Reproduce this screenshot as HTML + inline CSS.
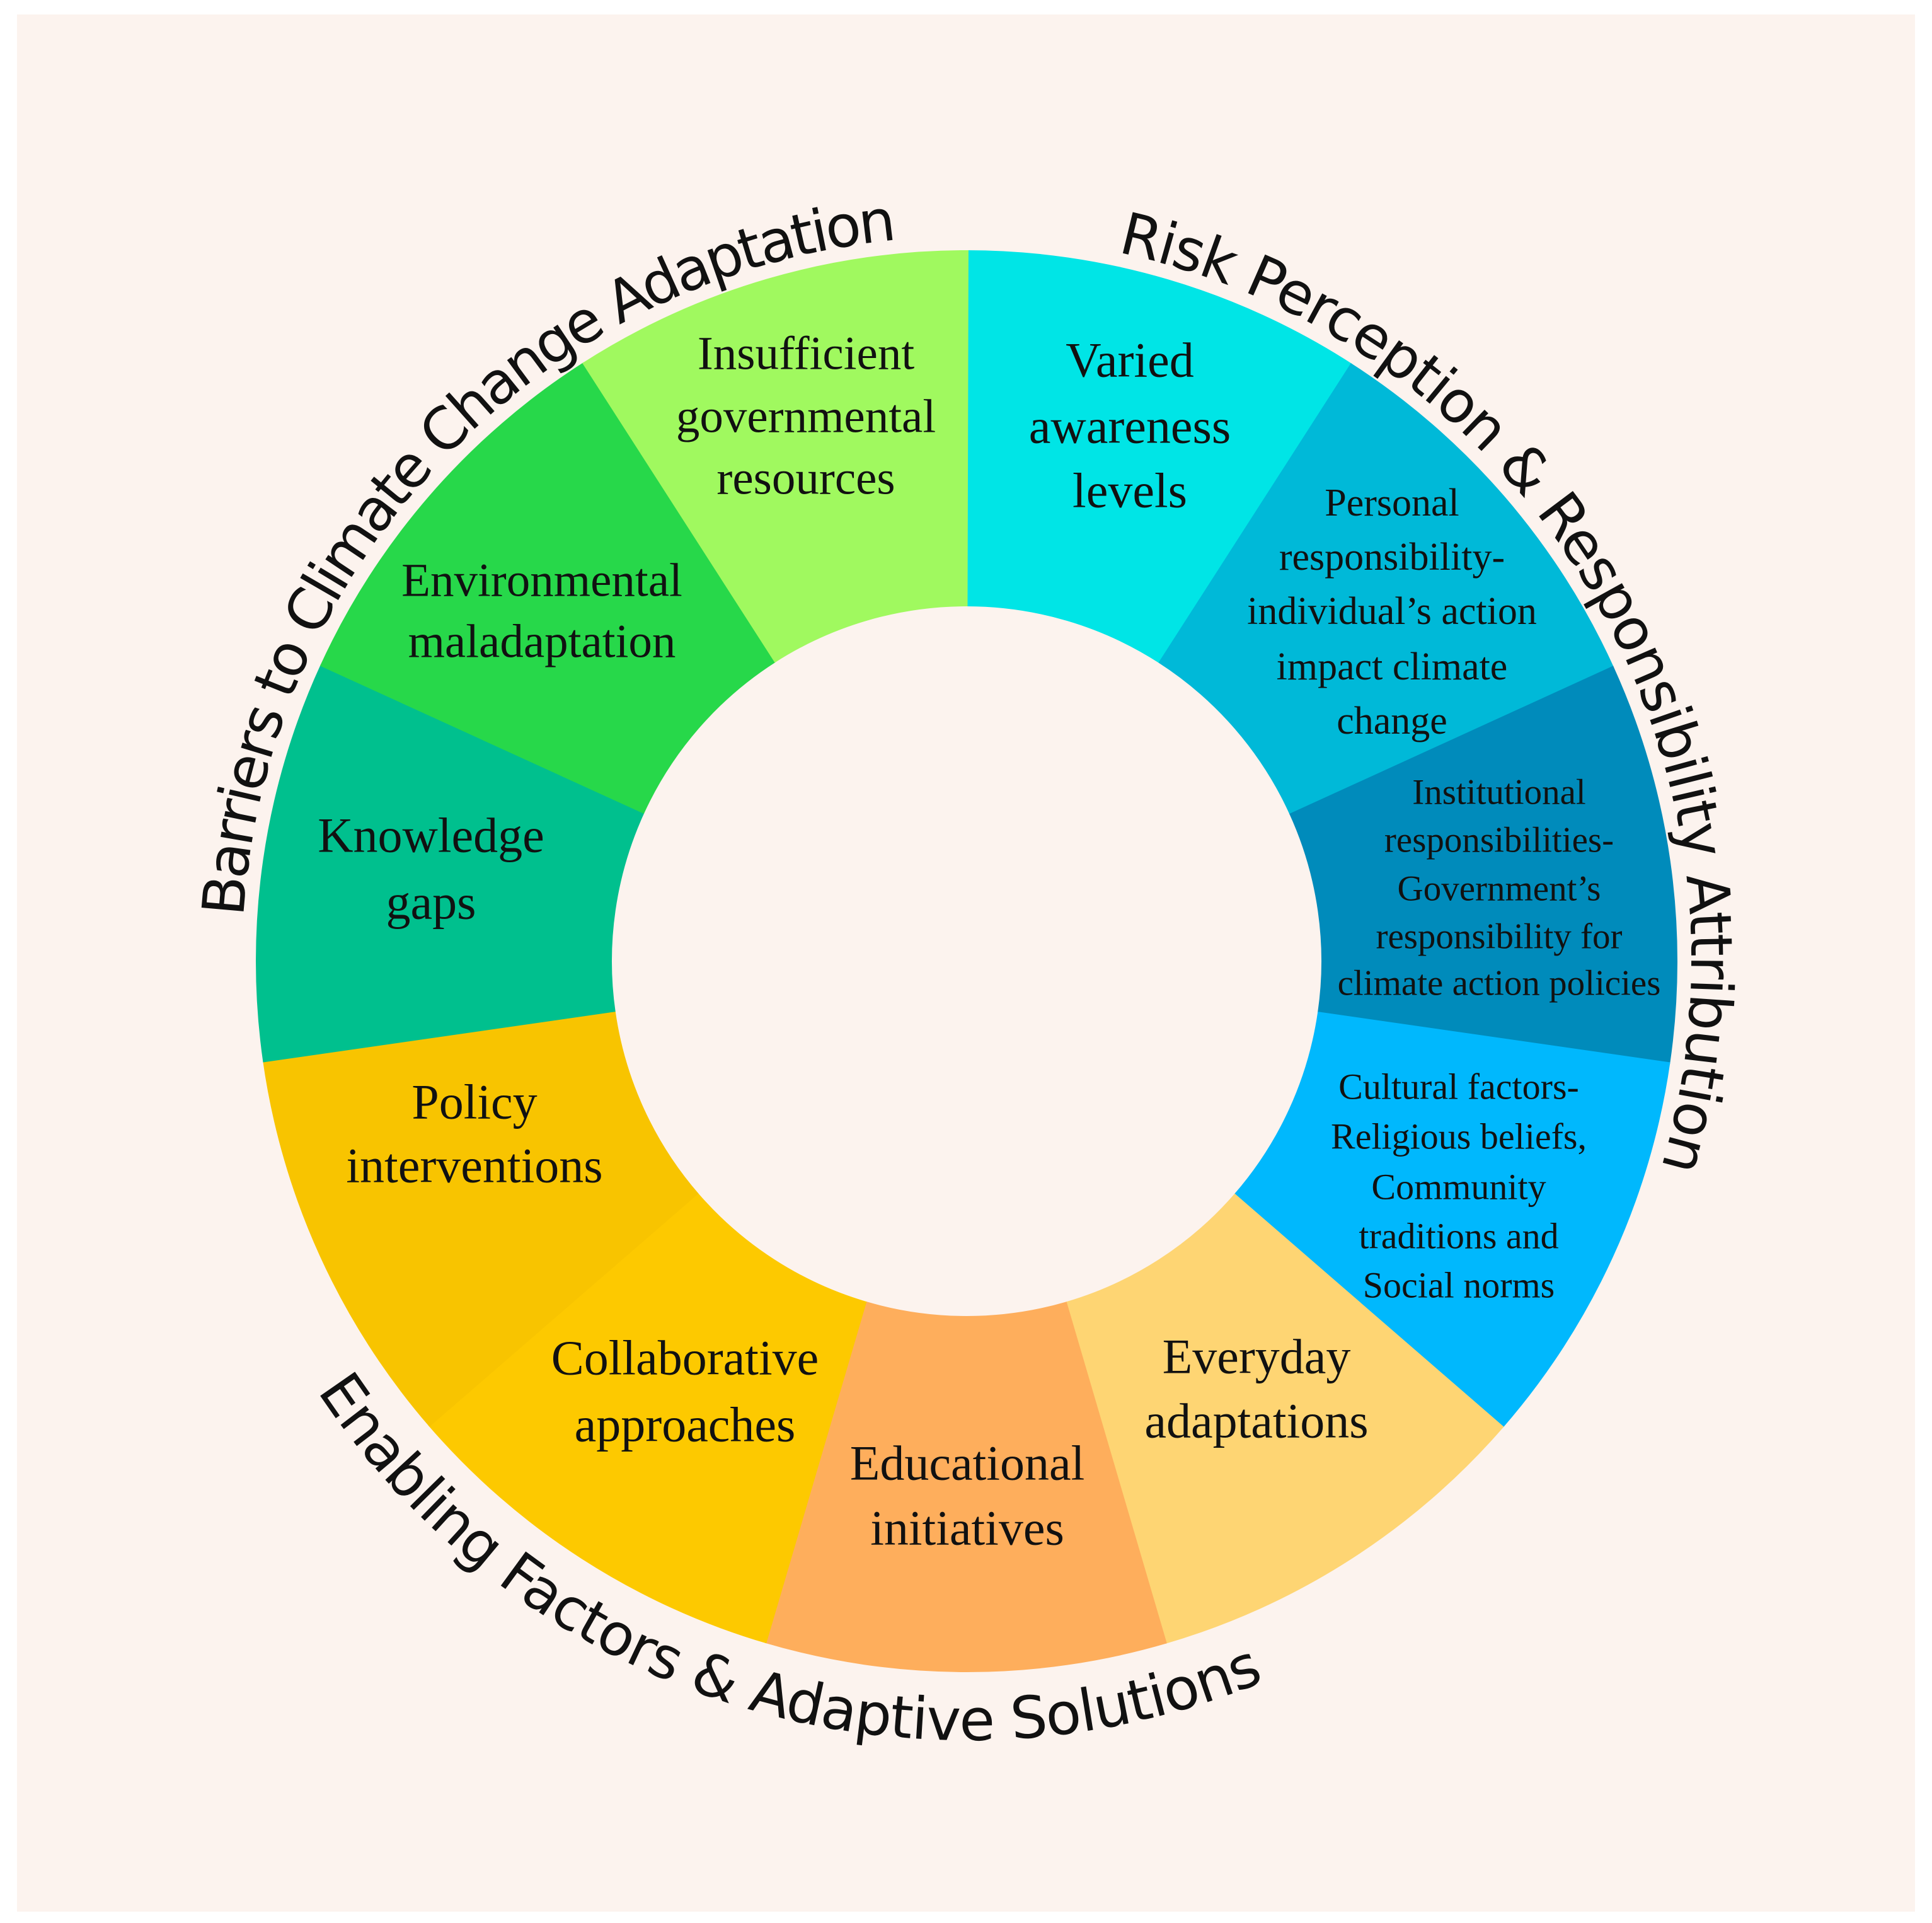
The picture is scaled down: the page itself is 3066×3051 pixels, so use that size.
<!DOCTYPE html>
<html><head><meta charset="utf-8"><style>
html,body{margin:0;padding:0;background:#fff;}
svg{display:block;}
.l{font-family:"Liberation Serif",serif;fill:#111;text-anchor:middle;dominant-baseline:central;}
.c{font-family:"DejaVu Sans","Liberation Sans",sans-serif;font-size:92px;fill:#111;}
</style></head><body>
<svg id="s" width="3066" height="3051" viewBox="0 0 3066 3051" xmlns="http://www.w3.org/2000/svg">
<rect x="0" y="0" width="3066" height="3051" fill="#fff"/>
<rect x="27" y="23" width="3012" height="3010" fill="#fcf3ee"/>
<g id="w"></g>
<defs>
<path id="pl" d=""/><path id="pr" d=""/><path id="pb" d=""/>
</defs>
<text class="c"><textPath href="#pl" textLength="1626" lengthAdjust="spacing">Barriers to Climate Change Adaptation</textPath></text>
<text class="c"><textPath href="#pr" textLength="1897" lengthAdjust="spacing">Risk Perception &amp; Responsibility Attribution</textPath></text>
<text class="c"><textPath href="#pb" textLength="1704" lengthAdjust="spacing">Enabling Factors &amp; Adaptive Solutions</textPath></text>

<g class="l" font-size="78">
<text x="1793" y="571">Varied</text><text x="1793" y="676">awareness</text><text x="1793" y="778">levels</text>
<text x="1994" y="2152">Everyday</text><text x="1994" y="2254">adaptations</text>
<text x="1535" y="2321">Educational</text><text x="1535" y="2424">initiatives</text>
<text x="1087" y="2154">Collaborative</text><text x="1087" y="2260">approaches</text>
<text x="753" y="1748">Policy</text><text x="753" y="1849">interventions</text>
<text x="684" y="1325">Knowledge</text><text x="684" y="1431">gaps</text>
</g>
<g class="l" font-size="75">
<text x="860" y="921">Environmental</text><text x="860" y="1018">maladaptation</text>
<text x="1279" y="561">Insufficient</text><text x="1279" y="661">governmental</text><text x="1279" y="759">resources</text>
</g>
<g class="l" font-size="62">
<text x="2209" y="798">Personal</text><text x="2209" y="884">responsibility-</text><text x="2209" y="970">individual’s action</text><text x="2209" y="1058">impact climate</text><text x="2209" y="1144">change</text>
</g>
<g class="l" font-size="57">
<text x="2379" y="1257">Institutional</text><text x="2379" y="1333">responsibilities-</text><text x="2379" y="1410">Government’s</text><text x="2379" y="1486">responsibility for</text><text x="2379" y="1560">climate action policies</text>
</g>
<g class="l" font-size="58">
<text x="2315" y="1724">Cultural factors-</text><text x="2315" y="1803">Religious beliefs,</text><text x="2315" y="1883">Community</text><text x="2315" y="1961">traditions and</text><text x="2315" y="2039">Social norms</text>
</g>
</svg>
<script>
(function(){
var cx=1534,cy=1525,R=1128,r=563,n=11;
var cols=["#00e5e6","#00b9d8","#008bbb","#00b8fd","#fed573","#feae5c","#fdc900","#f8c400","#00c08e","#27d84a","#a0f95f"];
function P(a,rad){a=a*Math.PI/180;return [cx+rad*Math.sin(a),cy-rad*Math.cos(a)];}
var g=document.getElementById('w'),ns="http://www.w3.org/2000/svg";
for(var i=0;i<n;i++){
 var a0=i*360/n,a1=(i+1)*360/n+0.15;
 var p0=P(a0,R),p1=P(a1,R),q1=P(a1,r),q0=P(a0,r);
 var d="M"+p0+" A"+R+","+R+" 0 0 1 "+p1+" L"+q1+" A"+r+","+r+" 0 0 0 "+q0+" Z";
 var e=document.createElementNS(ns,'path');e.setAttribute('d',d);e.setAttribute('fill',cols[i]);g.appendChild(e);
}
function arc(id,a0,a1,rad,sw){var s=P(a0,rad),t=P(a1,rad);
 document.getElementById(id).setAttribute('d',"M"+s+" A"+rad+","+rad+" 0 0 "+sw+" "+t);}
arc('pl',273.5,354.5,1150,1);
arc('pr',12,106.5,1150,1);
arc('pb',236.5,157.4,1236,0);
})();
</script>
</body></html>
